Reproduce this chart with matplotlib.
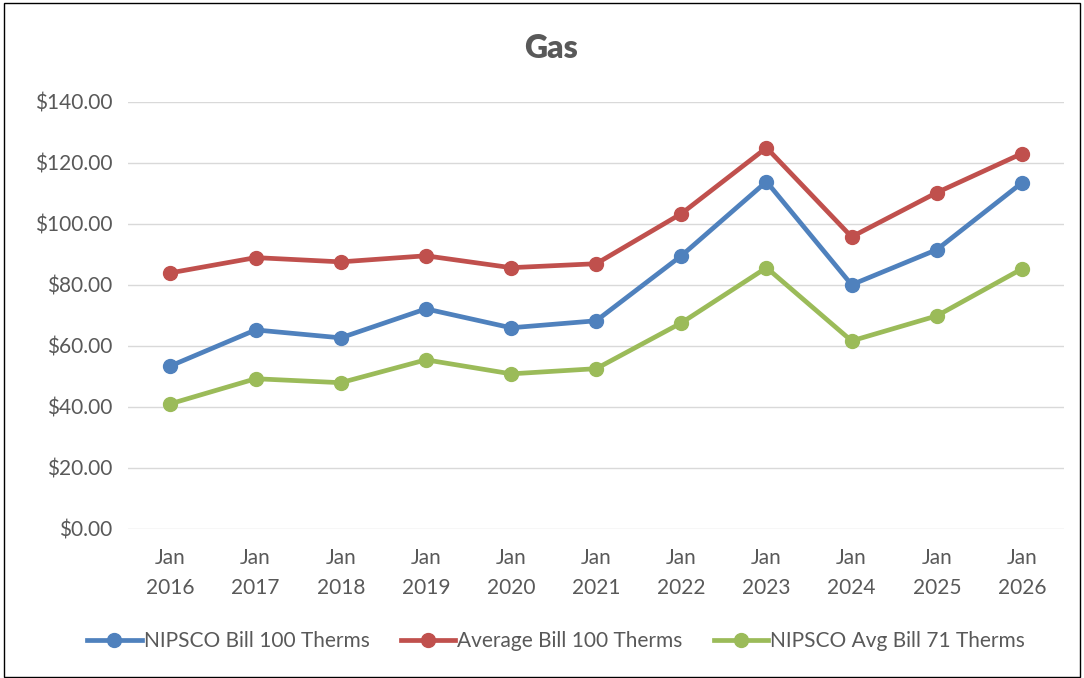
import numpy as np
import matplotlib as mpl
import matplotlib.pyplot as plt
from matplotlib.patches import Rectangle

mpl.use('Agg')
plt.rcParams['font.family'] = ['Lato', 'DejaVu Sans']

years = ['Jan\n2016', 'Jan\n2017', 'Jan\n2018', 'Jan\n2019', 'Jan\n2020', 'Jan\n2021',
         'Jan\n2022', 'Jan\n2023', 'Jan\n2024', 'Jan\n2025', 'Jan\n2026']
nipsco100 = [53.4, 65.2, 62.6, 72.1, 65.9, 68.2, 89.5, 113.8, 80.0, 91.5, 113.4]
avg100 = [83.9, 88.9, 87.5, 89.5, 85.6, 86.9, 103.3, 124.9, 95.7, 110.2, 123.0]
nipsco71 = [41.0, 49.2, 47.9, 55.4, 50.8, 52.5, 67.5, 85.6, 61.6, 69.8, 85.2]

series = [
    ('NIPSCO Bill 100 Therms', nipsco100, '#4F81BD'),
    ('Average Bill 100 Therms', avg100, '#C0504D'),
    ('NIPSCO Avg Bill 71 Therms', nipsco71, '#9BBB59'),
]

fig = plt.figure(figsize=(10.84, 6.78), dpi=100)
ax = fig.add_axes([0.118, 0.22, 0.864, 0.63])

x = np.arange(len(years))
for name, vals, col in series:
    ax.plot(x, vals, color=col, lw=3.4, marker='o', markersize=10, label=name)

ax.set_xlim(-0.5, len(years) - 0.5)
ax.set_ylim(0, 140)
ax.set_yticks(np.arange(0, 141, 20))
ax.set_yticklabels(['${:.2f}'.format(v) for v in np.arange(0, 141, 20)])
ax.set_xticks(x)
ax.set_xticklabels(years)
ax.tick_params(axis='both', length=0, labelsize=15, colors='#595959')
ax.tick_params(axis='y', pad=11)
ax.tick_params(axis='x', pad=14)
for lbl in ax.get_xticklabels():
    lbl.set_linespacing(1.6)
ax.grid(axis='y', color='#D9D9D9', lw=1)
ax.set_axisbelow(True)
for s in ax.spines.values():
    s.set_visible(False)

fig.text(0.508, 0.928, 'Gas', ha='center', va='center', fontsize=23,
         fontweight='heavy', color='#595959')

fig.legend(loc='center', bbox_to_anchor=(0.513, 0.054), ncol=3, frameon=False,
           fontsize=15, handlelength=2.6, handletextpad=0.1, columnspacing=1.5,
           labelcolor='#595959')

fig.patches.append(Rectangle((0.004, 0.002), 0.992, 0.994, transform=fig.transFigure,
                             fill=False, edgecolor='black', lw=1))

fig.savefig('out.png', dpi=100)
